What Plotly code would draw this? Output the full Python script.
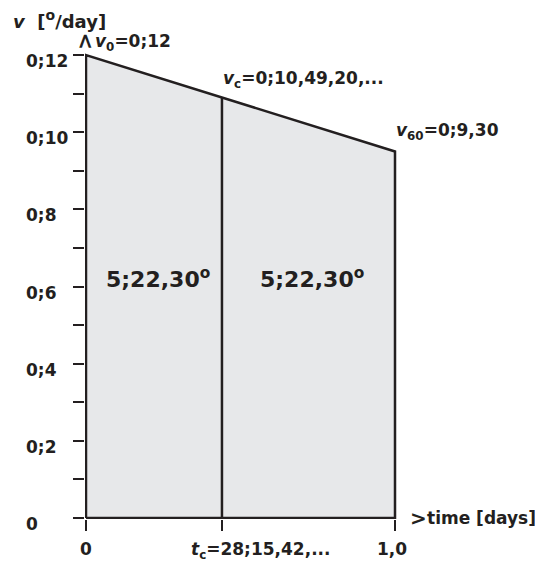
import plotly.graph_objects as go

# ---- data (x in days, y in minutes of degree per day: 0;1 = 1/60 deg) ----
x_days = [0, 0, 60, 60, 0]
v_minutes = [0, 12, 9.5, 0, 0]
tc_pos = 26.4          # drawn position of t_c
vc_drawn = 10.9        # drawn height of v_c
y_tickvals = list(range(0, 13))
y_labels = {0: "0", 2: "0;2", 4: "0;4", 6: "0;6", 8: "0;8", 10: "0;10", 12: "0;12"}
x_tickvals = [0, tc_pos, 60]
area_label = "5;22,30<sup>o</sup>"

INK = "#231f20"
FILL = "#e7e8ea"
FONT = "DejaVu Sans"

OFF = 8  # page body margin
W, H = 543 - OFF, 566 - OFF
L, R, T, B = 85 - OFF, 145, 50 - OFF, 47
PW, PH = 543 - 85 - R, 566 - 50 - B
X0, X1 = -1 / 5.15, 60 + 3 / 5.15
Y0, Y1 = -1 / 38.58, 12 + 5 / 38.58


def px(xp):
    return (xp - 85) / PW


def py(yp):
    return 1 - (yp - 50) / PH


fig = go.Figure()
fig.add_trace(go.Scatter(x=x_days, y=v_minutes, mode="lines", fill="toself",
                         fillcolor=FILL, line=dict(color=INK, width=2.5),
                         hoverinfo="skip", showlegend=False))
fig.add_trace(go.Scatter(x=[tc_pos, tc_pos], y=[0, vc_drawn], mode="lines",
                         line=dict(color=INK, width=2.5), hoverinfo="skip",
                         showlegend=False))

ann = []


def add(text, x, y, size=17, xanchor="left", yanchor="middle", angle=0):
    ann.append(dict(text=text, x=px(x), y=py(y), xref="paper", yref="paper",
                    xanchor=xanchor, yanchor=yanchor, showarrow=False,
                    textangle=angle,
                    font=dict(family=FONT, size=size, color=INK, weight="bold")))


# axis titles / arrows
add("<i>v</i>\u00a0\u00a0[<sup><span style='font-size:14px'>o</span></sup>/day]", 11, 20, size=18)
add(">", 85, 41, angle=-90, xanchor="center", size=21)
add(">", 408, 518, size=20)
add("time [days]", 425, 518, size=17)

# point labels
add("<i>v</i><sub>0</sub>=0;12", 93, 43)
add("<i>v</i><sub>c</sub>=0;10,49,20,...", 221, 79)
add("<i>v</i><sub>60</sub>=0;9,30", 394, 131)

# area labels
add(area_label, 158, 278, size=22, xanchor="center")
add(area_label, 312, 278, size=22, xanchor="center")

# x tick labels
add("0", 86, 549, xanchor="center")
add("<i>t</i><sub>c</sub>=28;15,42,...", 189, 550)
add("1,0", 392, 549, xanchor="center")

# y tick labels
for v, lab in y_labels.items():
    ypix = 518 - v * 38.58
    add(lab, 24, ypix + 6)

fig.update_layout(
    width=W, height=H,
    margin=dict(l=L, r=R, t=T, b=B, autoexpand=False),
    paper_bgcolor="white", plot_bgcolor="white",
    annotations=ann,
    xaxis=dict(range=[X0, X1], showgrid=False, zeroline=False, showline=False,
               tickvals=x_tickvals, showticklabels=False, ticks="outside",
               ticklen=11, tickwidth=1.5, tickcolor=INK, automargin=False,
               fixedrange=True),
    yaxis=dict(range=[Y0, Y1], showgrid=False, zeroline=False, showline=False,
               tickvals=y_tickvals, showticklabels=False, ticks="outside",
               ticklen=11, tickwidth=1.5, tickcolor=INK, automargin=False,
               fixedrange=True),
)

fig.write_html("out.html", config={"displayModeBar": False})
